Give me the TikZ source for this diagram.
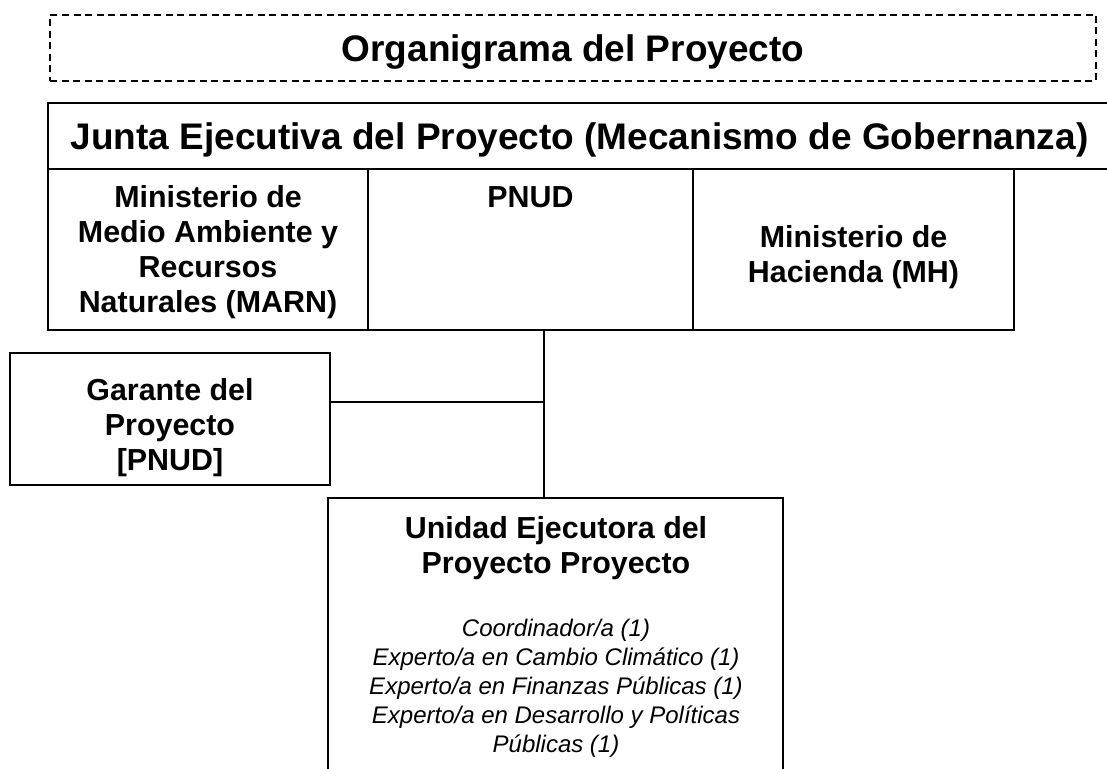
\documentclass[tikz,border=0pt]{standalone}
\usepackage{fontspec}
\setmainfont{Liberation Sans}
\begin{document}
\begin{tikzpicture}[x=1pt,y=-1pt,
  box/.style={draw=black, line width=1.6pt, inner sep=0pt, rectangle},
  dashbox/.style={draw=black, line width=1.5pt, dash pattern=on 7pt off 4.5pt, inner sep=0pt, rectangle},
  bigtxt/.style={inner sep=0pt, anchor=base, font={\fontsize{37}{42}\selectfont\bfseries}},
  boldtxt/.style={inner sep=0pt, align=center, font={\fontsize{30.4}{35}\selectfont\bfseries}},
  itxt/.style={inner sep=0pt, align=center, font={\fontsize{24}{29}\selectfont\itshape}},
  link/.style={draw=black, line width=1.6pt}]
\useasboundingbox (0,0) rectangle (1107,768);
\clip (0,0) rectangle (1107,768);
% title
\node[dashbox, minimum width=1046pt, minimum height=66pt] (titlebox) at (573,48) {};
\node[bigtxt] (title) at (573,61.3) {Organigrama del Proyecto};
% junta
\node[box, minimum width=1063pt, minimum height=66pt] (junta) at (579.5,136) {};
\node[bigtxt] (juntatxt) at (579.5,149.2) {Junta Ejecutiva del Proyecto (Mecanismo de Gobernanza)};
% three members
\node[box, minimum width=320pt, minimum height=161pt] (marn) at (208,249.5) {};
\node[boldtxt] (marntxt) at (208,252.5) {Ministerio de\\Medio Ambiente y\\Recursos\\Naturales (MARN)};
\node[box, minimum width=325pt, minimum height=161pt] (pnud) at (530.5,249.5) {};
\node[boldtxt, anchor=base] (pnudtxt) at (530.5,207.9) {PNUD};
\node[box, minimum width=321pt, minimum height=161pt] (mh) at (853.5,249.5) {};
\node[boldtxt] (mhtxt) at (853.5,257.5) {Ministerio de\\Hacienda (MH)};
% garante
\node[box, minimum width=320pt, minimum height=132pt] (garante) at (170,419) {};
\node[boldtxt] (garantetxt) at (170,428) {Garante del\\Proyecto\\{[PNUD]}};
% unidad
\node[box, minimum width=455pt, minimum height=282pt] (unidad) at (555.5,639) {};
\node[boldtxt] (unidadtxt) at (556,548) {Unidad Ejecutora del\\Proyecto Proyecto};
\node[itxt] (stafftxt) at (556,688.4) {Coordinador/a (1)\\Experto/a en Cambio Climático (1)\\Experto/a en Finanzas Públicas (1)\\Experto/a en Desarrollo y Políticas\\Públicas (1)};
% connectors
\coordinate (jn) at (544,402);
\draw[link] (pnud.south -| jn) -- (unidad.north -| jn);
\draw[link] (garante.east |- jn) -- (jn);
\end{tikzpicture}
\end{document}
